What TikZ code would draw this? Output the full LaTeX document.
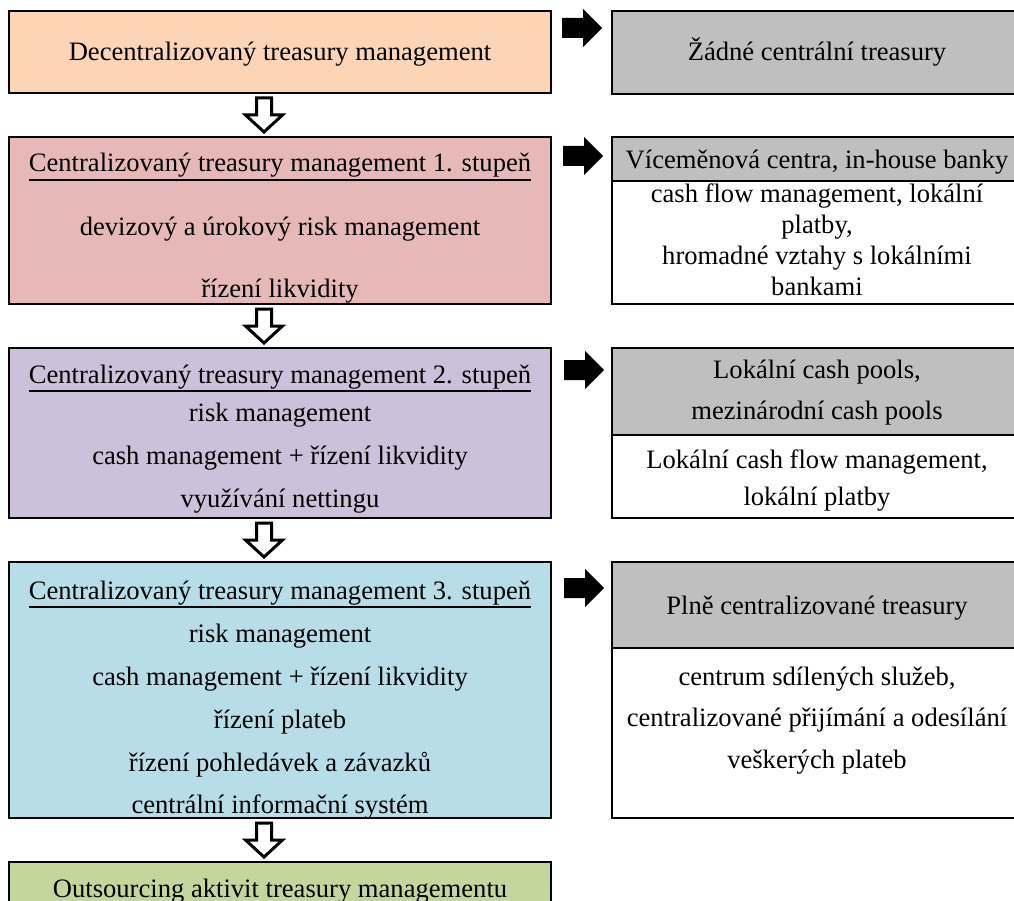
\documentclass[tikz,border=0pt]{standalone}
\usepackage{fontspec}
\setmainfont{Liberation Serif}
\usetikzlibrary{calc}
\definecolor{cPeach}{HTML}{FBD5B5}
\definecolor{cPink}{HTML}{E6B9B8}
\definecolor{cPurple}{HTML}{CCC0DA}
\definecolor{cBlue}{HTML}{B7DDE8}
\definecolor{cGreen}{HTML}{C3D69B}
\definecolor{cGray}{HTML}{BFBFBF}
\newcommand\RArrow[1]{\fill[rarrow] (#1) ++(-20,-10) -- ++(21,0) -- ++(0,-9) -- ++(19,19) -- ++(-19,19) -- ++(0,-9) -- ++(-21,0) -- cycle;}
\newcommand\DArrow[1]{\filldraw[darrow] (#1) ++(-7.5,-17) -- ++(15,0) -- ++(0,17) -- ++(11,0) -- ++(-18.5,17) -- ++(-18.5,-17) -- ++(11,0) -- cycle;}
\newcommand\ULine[1]{\draw[uline] ($(#1.base west)+(0,8)$) -- ($(#1.base east)+(0,8)$);}
\begin{document}
\begin{tikzpicture}[x=1pt,y=-1pt,
  lbox/.style={draw=black, line width=2.2pt, inner sep=0pt, minimum width=542pt},
  rbox/.style={draw=black, line width=2.2pt, inner sep=0pt, minimum width=410pt},
  txt/.style={anchor=base, inner sep=0pt, font=\fontsize{26.6}{30}\selectfont},
  uline/.style={line width=1.6pt, black},
  rarrow/.style={fill=black},
  darrow/.style={draw=black, fill=white, line width=3pt, line join=miter}]
\useasboundingbox (0,0) rectangle (1014,901);
% left boxes
\node[lbox, fill=cPeach,  minimum height=82pt]  (b1) at (280,52) {};
\node[lbox, fill=cPink,   minimum height=167pt] (b2) at (280,220.5) {};
\node[lbox, fill=cPurple, minimum height=170pt] (b3) at (280,433) {};
\node[lbox, fill=cBlue,   minimum height=256pt] (b4) at (280,690) {};
\node[lbox, fill=cGreen,  minimum height=70pt]  (b5) at (280,897) {};
% right boxes
\node[rbox, fill=cGray,  minimum height=83pt]  (r1)  at (817,52.5) {};
\node[rbox, fill=cGray,  minimum height=44pt]  (r2a) at (817,159) {};
\node[rbox, fill=white,  minimum height=123pt] (r2b) at (817,242.5) {};
\node[rbox, fill=cGray,  minimum height=87pt]  (r3a) at (817,391.5) {};
\node[rbox, fill=white,  minimum height=83pt]  (r3b) at (817,476.5) {};
\node[rbox, fill=cGray,  minimum height=86pt]  (r4a) at (817,605) {};
\node[rbox, fill=white,  minimum height=170pt] (r4b) at (817,733) {};
% left texts
\node[txt] (t11) at (280,61) {Decentralizovaný treasury management};
\node[txt] (t21) at (280,172) {Centralizovaný treasury management 1. stupeň};
\node[txt] (t22) at (280,236) {devizový a úrokový risk management};
\node[txt] (t23) at (280,297) {řízení likvidity};
\node[txt] (t31) at (280,383) {Centralizovaný treasury management 2. stupeň};
\node[txt] (t32) at (280,421) {risk management};
\node[txt] (t33) at (280,464) {cash management + řízení likvidity};
\node[txt] (t34) at (280,507) {využívání nettingu};
\node[txt] (t41) at (280,599) {Centralizovaný treasury management 3. stupeň};
\node[txt] (t42) at (280,642) {risk management};
\node[txt] (t43) at (280,685) {cash management + řízení likvidity};
\node[txt] (t44) at (280,728) {řízení plateb};
\node[txt] (t45) at (280,771) {řízení pohledávek a závazků};
\node[txt] (t46) at (280,813) {centrální informační systém};
\node[txt] (t51) at (280,897) {Outsourcing aktivit treasury managementu};
\ULine{t21}
\ULine{t31}
\ULine{t41}
% right texts
\node[txt] (s11) at (817,61) {Žádné centrální treasury};
\node[txt] (s21) at (817,169) {Víceměnová centra, in-house banky};
\node[txt] (s22) at (817,203) {cash flow management, lokální};
\node[txt] (s23) at (817,234) {platby,};
\node[txt] (s24) at (817,265) {hromadné vztahy s lokálními};
\node[txt] (s25) at (817,295) {bankami};
\node[txt] (s31) at (817,378) {Lokální cash pools,};
\node[txt] (s32) at (817,419) {mezinárodní cash pools};
\node[txt] (s33) at (817,468) {Lokální cash flow management,};
\node[txt] (s34) at (817,505) {lokální platby};
\node[txt] (s41) at (817,614) {Plně centralizované treasury};
\node[txt] (s42) at (817,685) {centrum sdílených služeb,};
\node[txt] (s43) at (817,726) {centralizované přijímání a odesílání};
\node[txt] (s44) at (817,768) {veškerých plateb};
% down arrows
\coordinate (da1) at ($(b1.south)!0.5!(b2.north)+(-16,0)$);
\coordinate (da2) at ($(b2.south)!0.5!(b3.north)+(-16,0)$);
\coordinate (da3) at ($(b3.south)!0.5!(b4.north)+(-16,0)$);
\coordinate (da4) at ($(b4.south)!0.5!(b5.north)+(-16,0)$);
\DArrow{da1}
\DArrow{da2}
\DArrow{da3}
\DArrow{da4}
% right arrows
\coordinate (ra1) at (582,28);
\coordinate (ra2) at (583,156);
\coordinate (ra3) at (584,370);
\coordinate (ra4) at (584,588);
\RArrow{ra1}
\RArrow{ra2}
\RArrow{ra3}
\RArrow{ra4}
\end{tikzpicture}
\end{document}
